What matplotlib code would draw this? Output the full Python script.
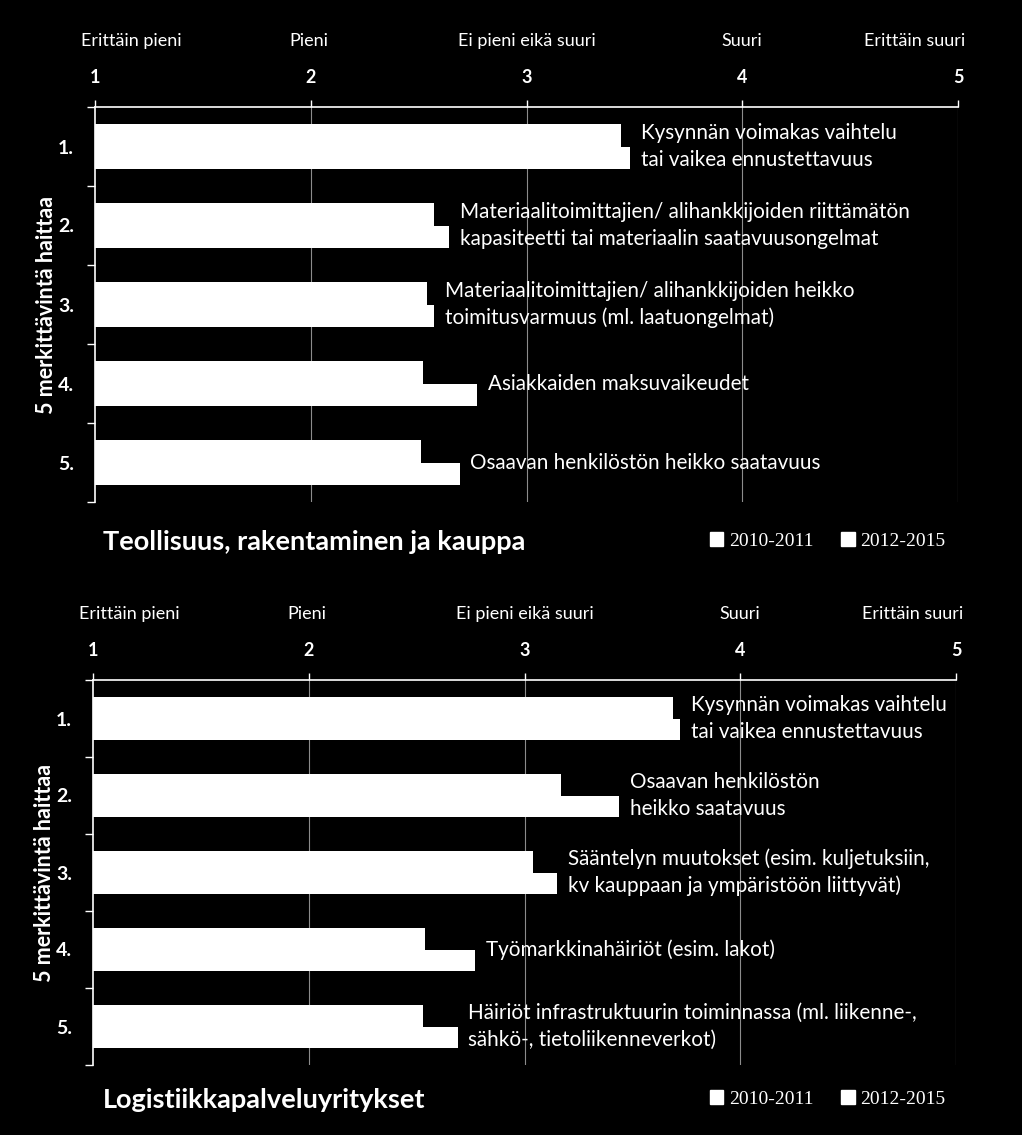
import numpy as np
import matplotlib.pyplot as plt
from matplotlib.patches import Patch

plt.rcParams['font.family'] = ['Lato', 'DejaVu Sans']

# scale
scale_ticks = [1, 2, 3, 4, 5]
scale_names = ["Erittäin pieni", "Pieni", "Ei pieni eikä suuri", "Suuri", "Erittäin suuri"]
scale_name_pos = [1.17, 1.99, 3.0, 4.0, 4.8]
ranks = ["1.", "2.", "3.", "4.", "5."]
series = ["2010-2011", "2012-2015"]

# Teollisuus, rakentaminen ja kauppa
top_title = "Teollisuus, rakentaminen ja kauppa"
top_2010 = [3.44, 2.57, 2.54, 2.52, 2.51]
top_2012 = [3.48, 2.64, 2.57, 2.77, 2.69]
top_labels = ["Kysynnän voimakas vaihtelu\ntai vaikea ennustettavuus",
              "Materiaalitoimittajien/ alihankkijoiden riittämätön\nkapasiteetti tai materiaalin saatavuusongelmat",
              "Materiaalitoimittajien/ alihankkijoiden heikko\ntoimitusvarmuus (ml. laatuongelmat)",
              "Asiakkaiden maksuvaikeudet",
              "Osaavan henkilöstön heikko saatavuus"]

# Logistiikkapalveluyritykset
bot_title = "Logistiikkapalveluyritykset"
bot_2010 = [3.69, 3.17, 3.04, 2.54, 2.53]
bot_2012 = [3.72, 3.44, 3.15, 2.77, 2.69]
bot_labels = ["Kysynnän voimakas vaihtelu\ntai vaikea ennustettavuus",
              "Osaavan henkilöstön\nheikko saatavuus",
              "Sääntelyn muutokset (esim. kuljetuksiin,\nkv kauppaan ja ympäristöön liittyvät)",
              "Työmarkkinahäiriöt (esim. lakot)",
              "Häiriöt infrastruktuurin toiminnassa (ml. liikenne-,\nsähkö-, tietoliikenneverkot)"]

W, H = 1022, 1135
fig = plt.figure(figsize=(W / 100, H / 100), dpi=100)
fig.patch.set_facecolor('black')


def panel(rect, v1, v2, labels, title, title_y, leg_y):
    ax = fig.add_axes(rect)
    ax.set_facecolor('black')
    y = np.arange(len(ranks))
    h = 0.28
    ax.barh(y - h / 2, np.array(v1) - 1, left=1, height=h, color='white', zorder=3)
    ax.barh(y + h / 2, np.array(v2) - 1, left=1, height=h, color='white', zorder=3)
    ax.set_xlim(1, 5)
    ax.set_ylim(4.5, -0.5)

    for x in scale_ticks[1:]:
        ax.axvline(x, color='#8c8c8c', lw=0.8, zorder=1)

    for i, lab in enumerate(labels):
        ax.text(max(v1[i], v2[i]) + 0.05, i, lab, color='white', fontsize=14.9,
                va='center', ha='left', linespacing=1.4, zorder=4)

    ax.xaxis.tick_top()
    ax.set_xticks(scale_ticks)
    ax.set_xticklabels([str(t) for t in scale_ticks], fontweight='bold', fontsize=13)
    ax.tick_params(axis='x', colors='white', length=5, width=1, pad=10)
    for xp, nm in zip(scale_name_pos, scale_names):
        ax.text(xp, 1.0, nm, transform=ax.get_xaxis_transform(), ha='center',
                va='bottom', color='white', fontsize=13,
                position=(xp, 1 + 58 / (rect[3] * H)))

    ax.set_yticks(np.arange(len(ranks) + 1) - 0.5, minor=False)
    ax.set_yticklabels([])
    ax.set_yticks(np.arange(len(ranks)), minor=True)
    ax.set_yticklabels(ranks, minor=True, fontweight='bold', fontsize=14, color='white')
    ax.tick_params(axis='y', which='major', colors='white', length=6, width=1)
    ax.tick_params(axis='y', which='minor', length=0, pad=15, colors='white')
    ax.set_ylabel("5 merkittävintä haittaa", color='white', fontweight='bold',
                  fontsize=15.5, labelpad=1)

    for s in ['right', 'bottom']:
        ax.spines[s].set_visible(False)
    for s in ['left', 'top']:
        ax.spines[s].set_color('white')
        ax.spines[s].set_linewidth(1.2)

    fig.text(103 / W, 1 - title_y / H, title, color='white', fontsize=19.5,
             fontweight='bold', va='center', ha='left')
    handles = [Patch(facecolor='white', edgecolor='white', label=s) for s in series]
    leg = fig.legend(handles=handles, ncol=2, frameon=False, loc='center right',
                     bbox_to_anchor=(963 / W, 1 - leg_y / H), handlelength=0.7,
                     handleheight=0.7, handletextpad=0.3, columnspacing=1.4,
                     prop={'family': 'Liberation Serif', 'size': 14})
    for t in leg.get_texts():
        t.set_color('white')
    return ax


panel([95 / W, 1 - 502 / H, 863 / W, 395 / H], top_2010, top_2012, top_labels,
      top_title, 542, 541)
panel([93 / W, 1 - 1065 / H, 863 / W, 385 / H], bot_2010, bot_2012, bot_labels,
      bot_title, 1100, 1099)

fig.savefig('out.png', dpi=100, facecolor='black')
